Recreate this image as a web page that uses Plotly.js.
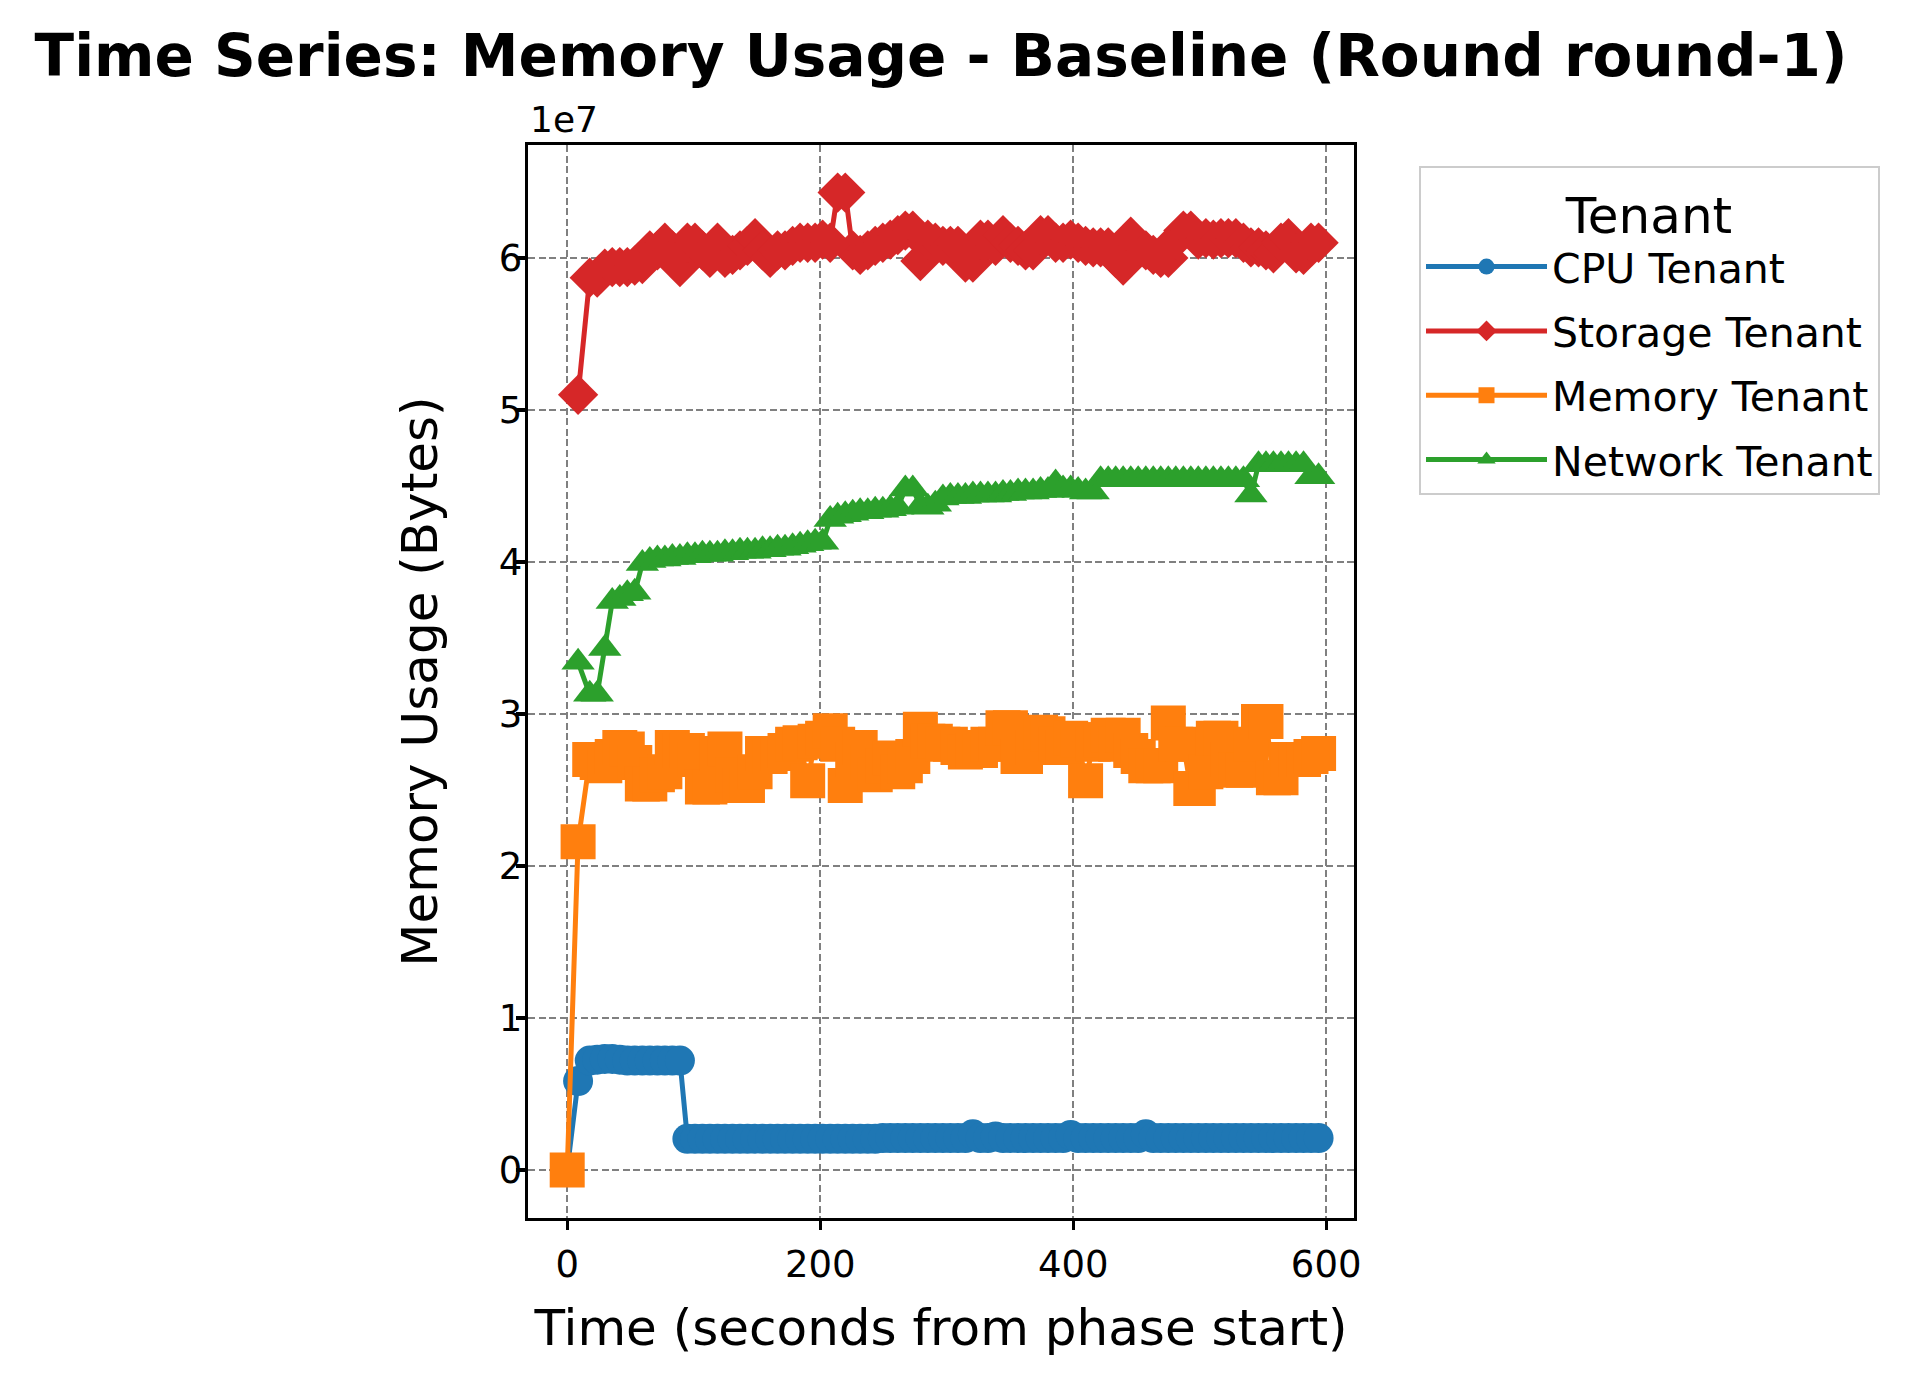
<!DOCTYPE html>
<html>
<head>
<meta charset="utf-8">
<script src="https://cdn.plot.ly/plotly-3.0.1.min.js"></script>
<style>
  html, body { margin: 0; padding: 0; background: #ffffff; }
  #chart { width: 1923px; height: 1385px; }
</style>
</head>
<body>
<div id="chart"></div>
<script>
// Time stamps (seconds from phase start)
const times = [0, 8.6, 17.8, 23.7, 29.7, 35.6, 41.6, 47.5, 53.4, 59.4,
  65.3, 71.3, 77.2, 83.1, 89.1, 95.0, 101.0, 106.9, 112.8, 118.8,
  124.7, 130.7, 136.6, 142.5, 148.5, 154.4, 160.4, 166.3, 172.2, 178.2,
  184.1, 190.1, 196.0, 201.9, 207.9, 213.8, 219.8, 225.7, 231.6, 237.6,
  243.5, 249.5, 255.4, 261.3, 267.3, 273.2, 279.2, 285.1, 291.0, 297.0,
  302.9, 308.9, 314.8, 320.7, 326.7, 332.6, 338.6, 344.5, 350.4, 356.4,
  362.3, 368.3, 374.2, 380.1, 386.1, 392.0, 398.0, 403.9, 409.8, 415.8,
  421.7, 427.7, 433.6, 439.5, 445.5, 451.4, 457.4, 463.3, 469.2, 475.2,
  481.1, 487.1, 493.0, 498.9, 504.9, 510.8, 516.8, 522.7, 528.6, 534.6,
  540.5, 546.5, 552.4, 558.3, 564.3, 570.2, 576.2, 582.1, 588.0, 594.0];

// Storage and Network tenants start at the second sample
const timesLate = times.slice(1);

const cpuTenant = [0, 0.585e7,
  0.72e7, 0.725e7, 0.73e7, 0.73e7, 0.725e7, 0.72e7, 0.72e7, 0.72e7, 0.72e7, 0.72e7, 0.72e7, 0.72e7, 0.72e7,
  0.205e7, 0.205e7, 0.205e7, 0.205e7, 0.205e7, 0.205e7, 0.205e7, 0.205e7, 0.205e7, 0.205e7,
  0.205e7, 0.205e7, 0.205e7, 0.205e7, 0.205e7, 0.205e7, 0.205e7, 0.205e7, 0.205e7, 0.205e7,
  0.205e7, 0.205e7, 0.205e7, 0.205e7, 0.205e7, 0.205e7,
  0.21e7, 0.21e7, 0.21e7, 0.21e7, 0.21e7, 0.21e7, 0.21e7, 0.21e7, 0.21e7, 0.21e7,
  0.21e7, 0.21e7, 0.235e7, 0.21e7, 0.21e7, 0.22e7, 0.21e7, 0.21e7, 0.21e7, 0.21e7,
  0.21e7, 0.21e7, 0.21e7, 0.21e7, 0.21e7, 0.23e7, 0.21e7, 0.21e7, 0.21e7, 0.21e7,
  0.21e7, 0.21e7, 0.21e7, 0.21e7, 0.21e7, 0.235e7, 0.21e7, 0.21e7, 0.21e7, 0.21e7,
  0.21e7, 0.21e7, 0.21e7, 0.21e7, 0.21e7, 0.21e7, 0.21e7, 0.21e7, 0.21e7, 0.21e7,
  0.21e7, 0.21e7, 0.21e7, 0.21e7, 0.21e7, 0.21e7, 0.21e7, 0.21e7, 0.21e7];

const storageTenant = [5.10e7,
  5.87e7, 5.87e7, 5.93e7, 5.94e7, 5.94e7, 5.94e7, 5.95e7, 5.96e7, 6.05e7, 6.05e7,
  6.10e7, 6.05e7, 5.94e7, 6.10e7, 6.10e7, 6.05e7, 6.00e7, 6.10e7, 6.00e7, 6.02e7,
  6.05e7, 6.08e7, 6.13e7, 6.05e7, 6.00e7, 6.05e7, 6.05e7, 6.08e7, 6.10e7, 6.10e7,
  6.10e7, 6.12e7, 6.10e7, 6.43e7, 6.43e7, 6.05e7, 6.02e7, 6.05e7, 6.08e7, 6.10e7,
  6.12e7, 6.15e7, 6.18e7, 6.18e7, 5.98e7, 6.12e7, 6.10e7, 6.08e7, 6.08e7, 6.08e7,
  5.97e7, 5.97e7, 6.12e7, 6.12e7, 6.08e7, 6.15e7, 6.10e7, 6.08e7, 6.05e7, 6.05e7,
  6.15e7, 6.15e7, 6.10e7, 6.10e7, 6.12e7, 6.10e7, 6.08e7, 6.07e7, 6.07e7, 6.07e7,
  6.00e7, 5.95e7, 6.14e7, 6.08e7, 6.05e7, 6.02e7, 6.00e7, 6.00e7, 6.12e7, 6.18e7,
  6.18e7, 6.12e7, 6.13e7, 6.12e7, 6.13e7, 6.13e7, 6.13e7, 6.10e7, 6.07e7, 6.07e7,
  6.05e7, 6.03e7, 6.10e7, 6.13e7, 6.03e7, 6.02e7, 6.10e7, 6.10e7];

const memoryTenant = [0, 2.16e7,
  2.70e7, 2.68e7, 2.66e7, 2.72e7, 2.78e7, 2.77e7, 2.68e7, 2.54e7, 2.54e7, 2.60e7,
  2.62e7, 2.78e7, 2.76e7, 2.76e7, 2.70e7, 2.52e7, 2.52e7, 2.74e7, 2.77e7, 2.60e7,
  2.53e7, 2.53e7, 2.62e7, 2.74e7, 2.72e7, 2.74e7, 2.76e7, 2.80e7, 2.81e7, 2.56e7,
  2.82e7, 2.84e7, 2.89e7, 2.80e7, 2.53e7, 2.70e7, 2.78e7, 2.68e7, 2.60e7, 2.66e7,
  2.71e7, 2.62e7, 2.66e7, 2.72e7, 2.90e7, 2.82e7, 2.82e7, 2.80e7, 2.80e7, 2.78e7,
  2.75e7, 2.76e7, 2.76e7, 2.80e7, 2.80e7, 2.91e7, 2.91e7, 2.72e7, 2.72e7, 2.78e7,
  2.88e7, 2.87e7, 2.80e7, 2.78e7, 2.84e7, 2.83e7, 2.56e7, 2.80e7, 2.83e7, 2.86e7,
  2.80e7, 2.86e7, 2.76e7, 2.72e7, 2.66e7, 2.66e7, 2.66e7, 2.94e7, 2.80e7, 2.80e7,
  2.51e7, 2.51e7, 2.62e7, 2.84e7, 2.84e7, 2.70e7, 2.63e7, 2.63e7, 2.80e7, 2.95e7,
  2.95e7, 2.58e7, 2.58e7, 2.70e7, 2.70e7, 2.70e7, 2.72e7, 2.74e7];

const networkTenant = [3.34e7, 3.13e7, 3.13e7, 3.43e7, 3.74e7, 3.76e7, 3.79e7, 3.80e7,
  3.99e7, 4.01e7, 4.02e7, 4.02e7, 4.03e7, 4.03e7, 4.04e7, 4.04e7, 4.05e7, 4.05e7,
  4.05e7, 4.06e7, 4.06e7, 4.07e7, 4.07e7, 4.07e7, 4.08e7, 4.08e7, 4.09e7, 4.09e7,
  4.10e7, 4.11e7, 4.12e7, 4.13e7, 4.13e7,
  4.28e7, 4.30e7, 4.31e7, 4.32e7, 4.33e7, 4.33e7, 4.34e7, 4.34e7, 4.35e7, 4.36e7,
  4.48e7, 4.48e7, 4.37e7, 4.36e7,
  4.38e7, 4.42e7, 4.43e7, 4.43e7, 4.43e7, 4.44e7, 4.44e7, 4.44e7, 4.44e7, 4.45e7,
  4.45e7, 4.46e7, 4.46e7, 4.46e7, 4.47e7, 4.47e7, 4.52e7, 4.48e7, 4.48e7, 4.47e7,
  4.46e7, 4.46e7,
  4.54e7, 4.54e7, 4.54e7, 4.54e7, 4.54e7, 4.54e7, 4.54e7, 4.54e7, 4.54e7, 4.54e7,
  4.54e7, 4.54e7, 4.54e7, 4.54e7, 4.54e7, 4.54e7, 4.54e7, 4.54e7, 4.54e7, 4.54e7,
  4.44e7,
  4.64e7, 4.64e7, 4.64e7, 4.64e7, 4.64e7, 4.64e7, 4.64e7,
  4.56e7, 4.56e7];

const seriesNames = ['CPU Tenant', 'Storage Tenant', 'Memory Tenant', 'Network Tenant'];
const yTickVals = [0, 1e7, 2e7, 3e7, 4e7, 5e7, 6e7];
const yTickText = ['0', '1', '2', '3', '4', '5', '6'];
const xTickVals = [0, 200, 400, 600];

const FONT = 'DejaVu Sans, Liberation Sans, sans-serif';

function mk(name, x, y, color, symbol, size, group) {
  return {
    type: 'scatter', mode: 'lines+markers', name: name, x: x, y: y,
    legendgroup: group,
    line: { color: color, width: 5 },
    marker: { color: color, symbol: symbol, size: size, line: { width: 0 } }
  };
}

const data = [
  mk(seriesNames[0], times, cpuTenant, '#1f77b4', 'circle', 30, 'a'),
  mk(seriesNames[1], timesLate, storageTenant, '#d62728', 'diamond', 31, 'b'),
  mk(seriesNames[2], times, memoryTenant, '#ff7f0e', 'square', 35, 'c'),
  mk(seriesNames[3], timesLate, networkTenant, '#2ca02c', 'triangle-up', 29, 'd')
];

const axisCommon = {
  showline: true, mirror: true, linecolor: '#000000', linewidth: 3.3,
  ticks: 'outside', ticklen: 9, tickwidth: 3.3, tickcolor: '#000000',
  showgrid: true, gridcolor: '#808080', gridwidth: 2, griddash: '7px,3.5px',
  zeroline: false,
  tickfont: { family: FONT, size: 37, color: '#000000' }
};

const layout = {
  width: 1923, height: 1385,
  paper_bgcolor: '#ffffff', plot_bgcolor: '#ffffff',
  margin: { l: 528, r: 569, t: 145, b: 167, pad: 0 },
  font: { family: FONT, color: '#000000' },
  title: {
    text: '<b>Time Series: Memory Usage - Baseline (Round round-1)</b>',
    font: { family: FONT, size: 58, color: '#000000' },
    xref: 'paper', x: 0.5, xanchor: 'center',
    yref: 'container', y: 1 - 56 / 1385, yanchor: 'middle'
  },
  xaxis: Object.assign({}, axisCommon, {
    range: [-31, 622],
    tickmode: 'array', tickvals: xTickVals,
    ticklabelstandoff: 2,
    title: { text: 'Time (seconds from phase start)', font: { family: FONT, size: 50 }, standoff: 26 }
  }),
  yaxis: Object.assign({}, axisCommon, {
    range: [-0.316e7, 6.743e7],
    tickmode: 'array', tickvals: yTickVals, ticktext: yTickText,
    ticklabelstandoff: -14,
    title: { text: 'Memory Usage (Bytes)', font: { family: FONT, size: 50 }, standoff: 46 }
  }),
  showlegend: true,
  legend: {
    x: 1.0787, xanchor: 'left', y: 0.98, yanchor: 'top',
    bgcolor: 'rgba(255,255,255,0.8)', bordercolor: '#cccccc', borderwidth: 2,
    font: { family: FONT, size: 41, color: '#000000' },
    title: { text: 'Tenant', side: 'top center', font: { family: FONT, size: 50, color: '#000000' } },
    traceorder: 'grouped', tracegroupgap: 8,
    itemwidth: 121, itemsizing: 'trace'
  },
  annotations: [{
    text: '1e7', xref: 'paper', yref: 'paper', x: 0, y: 1,
    xanchor: 'left', yanchor: 'bottom', yshift: 3, showarrow: false,
    font: { family: FONT, size: 36, color: '#000000' }
  }]
};

Plotly.newPlot('chart', data, layout, { displayModeBar: false, staticPlot: true });
</script>
</body>
</html>
